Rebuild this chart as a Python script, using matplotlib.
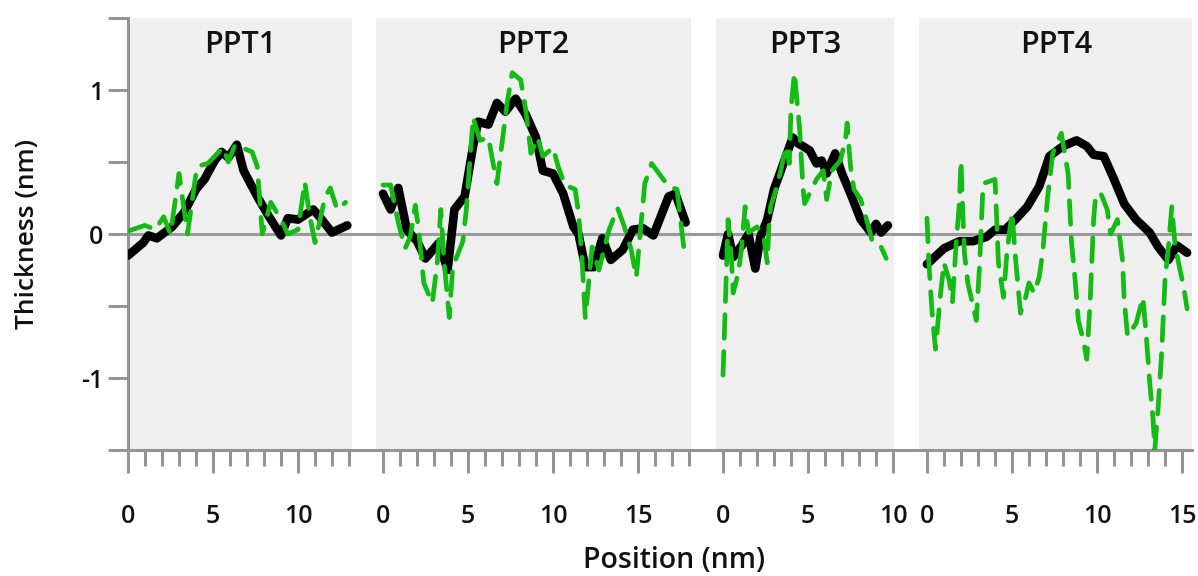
import numpy as np
import matplotlib
matplotlib.use("Agg")
import matplotlib.pyplot as plt

plt.rcParams['font.family'] = ['Open Sans', 'DejaVu Sans']

# ---- profile data (position in nm, thickness in nm) ----
ppt1_x_measured = [0, 0.9, 1.2, 1.7, 2.6, 3.3, 4.0, 4.5, 5.1, 5.5, 5.9, 6.4, 6.8, 7.2,
                   7.7, 8.3, 9.0, 9.4, 10.0, 10.9, 11.4, 12.0, 12.9]
ppt1_measured = [-0.15, -0.06, -0.01, -0.03, 0.05, 0.15, 0.31, 0.38, 0.51, 0.57, 0.53,
                 0.62, 0.44, 0.35, 0.24, 0.12, -0.01, 0.11, 0.10, 0.17, 0.10, 0.01, 0.06]
ppt1_x_model = [0, 1.0, 1.6, 2.1, 2.5, 3.0, 3.5, 4.0, 4.1, 4.7, 5.6, 5.9, 6.3, 7.3, 7.6,
                7.9, 8.4, 9.0, 9.4, 10.0, 10.4, 10.7, 11.0, 11.6, 11.9, 12.3, 12.8]
ppt1_model = [0.02, 0.06, 0.03, 0.12, 0.0, 0.42, 0.0, 0.42, 0.47, 0.49, 0.60, 0.50, 0.62,
              0.57, 0.47, 0.0, 0.22, 0.10, 0.0, 0.03, 0.36, 0.12, -0.06, 0.26, 0.32, 0.17, 0.22]

ppt2_x_measured = [0, 0.45, 0.9, 1.4, 2.0, 2.5, 3.3, 3.8, 4.2, 4.8, 5.3, 5.6, 6.2, 6.7,
                   7.2, 7.8, 8.4, 9.0, 9.4, 10.0, 10.6, 11.2, 11.5, 11.9, 12.4, 12.9,
                   13.4, 14.1, 14.7, 15.3, 15.9, 16.8, 17.2, 17.8]
ppt2_measured = [0.28, 0.17, 0.32, 0.03, -0.05, -0.17, -0.06, -0.25, 0.17, 0.26, 0.61,
                 0.78, 0.76, 0.91, 0.85, 0.94, 0.83, 0.67, 0.44, 0.42, 0.28, 0.05, 0.0,
                 -0.23, -0.23, -0.03, -0.18, -0.11, 0.03, 0.04, -0.01, 0.26, 0.28, 0.08]
ppt2_x_model = [0, 0.45, 0.9, 1.3, 1.6, 1.9, 2.1, 2.4, 2.9, 3.2, 3.4, 3.6, 3.9, 4.1, 4.7,
                4.9, 5.3, 5.7, 6.2, 6.4, 6.7, 7.0, 7.3, 7.6, 8.1, 8.4, 8.7, 9.1, 9.4,
                10.0, 10.3, 10.7, 11.3, 11.5, 11.7, 11.9, 12.3, 12.7, 13.3, 13.8, 14.2,
                14.6, 14.9, 15.2, 15.4, 15.8, 16.8, 17.3, 17.5, 17.7]
ppt2_model = [0.34, 0.34, 0.08, -0.10, -0.02, 0.20, 0.03, -0.34, -0.48, -0.19, 0.17,
              -0.20, -0.58, -0.23, -0.05, 0.17, 0.81, 0.65, 0.67, 0.54, 0.35, 0.63, 0.91,
              1.12, 1.07, 0.86, 0.56, 0.67, 0.54, 0.60, 0.47, 0.34, 0.31, 0.15, -0.16,
              -0.58, -0.09, -0.25, 0.03, 0.18, 0.05, -0.11, -0.30, 0.10, 0.35, 0.49,
              0.33, 0.31, 0.10, -0.10]

ppt3_x_measured = [0, 0.3, 0.6, 1.1, 1.5, 1.9, 2.2, 2.6, 3.0, 3.4, 3.7, 4.1, 4.4, 4.7,
                   5.1, 5.5, 5.8, 6.1, 6.6, 7.0, 7.5, 8.1, 8.7, 9.0, 9.3, 9.7]
ppt3_measured = [-0.15, 0.0, -0.16, -0.08, 0.0, -0.24, -0.02, 0.10, 0.31, 0.44, 0.54,
                 0.67, 0.63, 0.61, 0.58, 0.49, 0.51, 0.42, 0.56, 0.42, 0.28, 0.10, 0.01,
                 0.07, 0.01, 0.06]
ppt3_x_model = [0, 0.3, 0.5, 0.6, 0.9, 1.1, 1.3, 1.5, 2.0, 2.4, 2.6, 2.7, 2.8, 3.1, 3.4,
                3.7, 3.9, 4.0, 4.2, 4.5, 4.7, 4.8, 5.5, 5.9, 6.1, 6.4, 6.9, 7.2, 7.3,
                7.5, 7.7, 8.1, 8.4, 8.8, 9.3, 9.6]
ppt3_model = [-0.98, 0.10, -0.18, -0.41, -0.27, -0.09, 0.19, 0.01, 0.05, -0.02, -0.20,
              0.05, 0.19, 0.30, 0.44, 0.61, 0.49, 0.87, 1.12, 0.74, 0.33, 0.21, 0.38,
              0.44, 0.24, 0.44, 0.51, 0.65, 0.77, 0.47, 0.31, 0.24, 0.12, -0.06, -0.09,
              -0.17]

ppt4_x_measured = [0, 1.0, 1.9, 2.7, 3.5, 4.0, 4.6, 5.2, 5.9, 6.6, 7.2, 8.0, 8.8, 9.4,
                   9.8, 10.4, 11.0, 11.6, 12.3, 13.1, 13.6, 14.2, 14.7, 15.3]
ppt4_measured = [-0.21, -0.10, -0.05, -0.05, -0.02, 0.03, 0.03, 0.10, 0.19, 0.33, 0.54,
                 0.61, 0.65, 0.61, 0.55, 0.54, 0.38, 0.21, 0.10, 0.01, -0.09, -0.18,
                 -0.08, -0.13]
ppt4_x_model = [0, 0.1, 0.3, 0.5, 0.8, 1.0, 1.3, 1.5, 1.7, 1.9, 2.0, 2.1, 2.2, 2.4, 2.9,
                3.1, 3.3, 4.0, 4.1, 4.2, 4.5, 4.7, 5.0, 5.2, 5.5, 5.8, 6.0, 6.3, 6.6,
                6.8, 7.1, 7.4, 7.9, 8.1, 8.3, 8.5, 8.7, 8.9, 9.2, 9.4, 9.6, 9.8, 9.9,
                10.2, 10.6, 10.8, 11.2, 11.5, 11.6, 11.8, 12.3, 12.7, 12.9, 13.1, 13.3,
                13.4, 13.6, 13.8, 14.0, 14.2, 14.4, 14.6, 15.1, 15.3]
ppt4_model = [0.11, -0.18, -0.55, -0.80, -0.41, -0.20, -0.32, -0.47, -0.09, 0.21, 0.51,
              0.17, -0.13, -0.34, -0.60, -0.20, 0.35, 0.38, 0.10, -0.20, -0.44, -0.13,
              0.15, -0.16, -0.55, -0.44, -0.34, -0.41, -0.30, -0.13, 0.26, 0.56, 0.70,
              0.56, 0.42, -0.06, -0.30, -0.60, -0.74, -0.87, -0.46, 0.10, 0.24, 0.29,
              0.17, 0.0, 0.10, -0.18, -0.46, -0.71, -0.62, -0.44, -0.71, -1.03, -1.29,
              -1.50, -1.20, -0.83, -0.32, -0.09, 0.19, -0.09, -0.37, -0.52]

panel_names = ["PPT1", "PPT2", "PPT3", "PPT4"]
panel_lengths = [13, 18, 10, 15]

measured = [(ppt1_x_measured, ppt1_measured), (ppt2_x_measured, ppt2_measured),
            (ppt3_x_measured, ppt3_measured), (ppt4_x_measured, ppt4_measured)]
model = [(ppt1_x_model, ppt1_model), (ppt2_x_model, ppt2_model),
         (ppt3_x_model, ppt3_model), (ppt4_x_model, ppt4_model)]

# ---- layout: panels share one axis, each shifted along x ----
offsets = [0, 15, 35, 47]
shade = [(0.0, 13.2), (-0.4, 18.1), (-0.4, 10.05), (-0.5, 15.7)]
x_end = 62.6

axis_grey = '#949494'
green = '#14bb14'

fig = plt.figure(figsize=(11.98, 5.76), dpi=100)
ax = fig.add_axes([128 / 1198, 1 - 450 / 576, (1192.2 - 128) / 1198, 432 / 576])
ax.set_xlim(0, x_end)
ax.set_ylim(-1.5, 1.5)

for name, off, (s0, s1) in zip(panel_names, offsets, shade):
    ax.axvspan(off + s0, off + s1, color='#efefef', lw=0, zorder=0)
    ax.text(off + (s0 + s1) / 2, 1.31, name, ha='center', va='center',
            fontsize=22, fontweight='semibold', color='#111111')

ax.axhline(0, color='#9a9a9a', lw=2.2, zorder=1)

for off, (xm, ym), (xg, yg) in zip(offsets, measured, model):
    ax.plot(np.asarray(xm) + off, ym, color='black', lw=6.2,
            solid_joinstyle='round', solid_capstyle='round', zorder=3)
    ax.plot(np.asarray(xg) + off, yg, color=green, lw=3.4, linestyle=(0, (5, 2.8)),
            dash_capstyle='round', dash_joinstyle='round', zorder=4)

# ---- axes styling ----
for side in ('top', 'right'):
    ax.spines[side].set_visible(False)
for side in ('left', 'bottom'):
    ax.spines[side].set_color(axis_grey)
    ax.spines[side].set_linewidth(2.2)

ax.set_yticks([-1.5, -1, -0.5, 0, 0.5, 1, 1.5])
ax.set_yticklabels(['', '-1', '', '0', '', '1', ''])
ax.tick_params(axis='y', direction='out', length=14.4, width=2.2, color=axis_grey,
               pad=3.5, labelsize=18)

major_pos, major_lab, minor_pos = [], [], []
for off, n in zip(offsets, panel_lengths):
    for k in range(n + 1):
        if k % 5 == 0:
            major_pos.append(off + k)
            major_lab.append(str(k))
        else:
            minor_pos.append(off + k)
ax.set_xticks(major_pos)
ax.set_xticklabels(major_lab)
ax.set_xticks(minor_pos, minor=True)
ax.tick_params(axis='x', which='major', direction='out', length=16.6, width=2.2,
               color=axis_grey, pad=22, labelsize=18)
ax.tick_params(axis='x', which='minor', direction='out', length=11.5, width=2.2,
               color=axis_grey)
for lab in ax.get_xticklabels() + ax.get_yticklabels():
    lab.set_fontweight('semibold')
    lab.set_color('#111111')

fig.text(674 / 1198, 1 - 568 / 576, 'Position (nm)', ha='center', va='baseline',
         fontsize=20.5, fontweight='semibold', color='#111111')
fig.text(28 / 1198, 1 - 234 / 576, 'Thickness (nm)', ha='center', va='center',
         rotation=90, fontsize=19, fontweight='semibold', color='#111111')

fig.savefig('out.png', dpi=100)
